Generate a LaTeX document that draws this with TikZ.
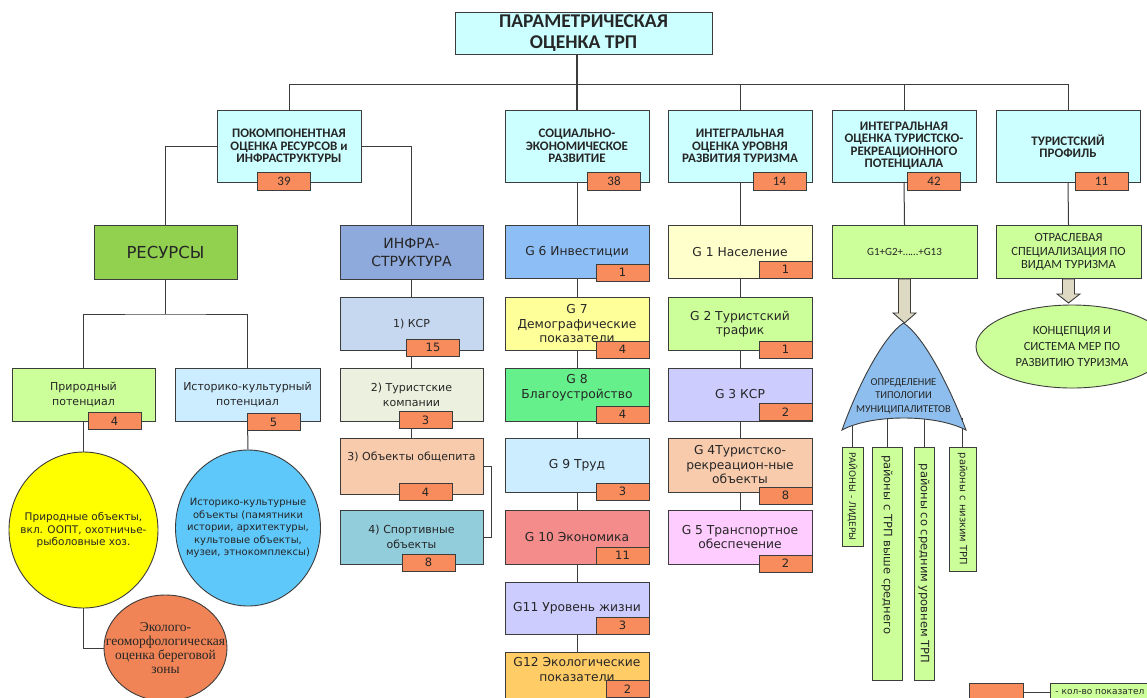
\documentclass[tikz,border=0pt]{standalone}
\usepackage{fontspec}
\setmainfont{DejaVu Sans}
\newfontfamily\calfont{Carlito}
\newfontfamily\serfont{Liberation Serif}
\usetikzlibrary{shapes.geometric}
\definecolor{headc}{RGB}{204,255,255}
\definecolor{numc}{RGB}{248,140,92}
\definecolor{lgreen}{RGB}{204,255,153}
\definecolor{resc}{RGB}{146,208,80}
\definecolor{infc}{RGB}{142,169,219}
\definecolor{histc}{RGB}{204,236,255}
\definecolor{yelc}{RGB}{255,255,0}
\definecolor{bluec}{RGB}{95,200,250}
\definecolor{orc}{RGB}{240,132,86}
\definecolor{ksrc}{RGB}{198,215,240}
\definecolor{turc}{RGB}{235,241,222}
\definecolor{peach}{RGB}{248,203,173}
\definecolor{sportc}{RGB}{146,205,220}
\definecolor{invc}{RGB}{141,190,245}
\definecolor{demc}{RGB}{255,255,153}
\definecolor{blagc}{RGB}{102,240,140}
\definecolor{ekonc}{RGB}{245,140,140}
\definecolor{lifec}{RGB}{204,204,255}
\definecolor{ecoc}{RGB}{255,204,102}
\definecolor{popc}{RGB}{255,255,204}
\definecolor{transc}{RGB}{255,204,255}
\definecolor{arrc}{RGB}{221,217,195}
\definecolor{domec}{RGB}{141,190,238}
\definecolor{linec}{RGB}{60,60,60}

\begin{document}
\begin{tikzpicture}[x=1pt,y=-1pt,
    box/.style={draw=linec, line width=0.9pt, minimum width=144, minimum height=53, inner sep=2pt, align=center, text=black!85},
    top/.style={box, fill=headc, minimum height=72, font=\calfont\bfseries\fontsize{13}{12.5}\selectfont},
    gbox/.style={box, font=\fontsize{12.3}{14.5}\selectfont},
    sbox/.style={box, font=\fontsize{11}{15}\selectfont},
    num/.style={draw=linec, line width=0.9pt, fill=numc, minimum width=53, minimum height=17, inner sep=0pt, text=black!85, font=\fontsize{11.5}{12}\selectfont},
    bignum/.style={num, minimum height=18, font=\calfont\fontsize{13}{13}\selectfont},
    link/.style={draw=linec, line width=1pt},
    oval/.style={ellipse, draw=linec, line width=0.9pt, inner sep=0pt},
    ovaltext/.style={align=center, inner sep=0pt, text=black!85},
    vbox/.style={draw=linec, line width=0.9pt, fill=lgreen, rotate=-90, inner xsep=2pt, inner ysep=0pt, text=black!85},
    fat/.style={draw=linec, line width=0.9pt, fill=arrc}]
    \fill[white] (0,0) rectangle (1147,697);
    \useasboundingbox (0,0) rectangle (1147,697);
    \clip (0,0) rectangle (1147,697);

    \node[box, fill=headc, minimum width=257, minimum height=42, font=\calfont\bfseries\fontsize{19.5}{21}\selectfont] (title) at (583.5,33) {ПАРАМЕТРИЧЕСКАЯ\\ОЦЕНКА ТРП};

    \node[top] (pok) at (289,146) {ПОКОМПОНЕНТНАЯ\\ОЦЕНКА РЕСУРСОВ и\\ИНФРАСТРУКТУРЫ};
    \node[top] (soc) at (577,146) {СОЦИАЛЬНО-\\ЭКОНОМИЧЕСКОЕ\\РАЗВИТИЕ};
    \node[top] (lev) at (740,146) {ИНТЕГРАЛЬНАЯ\\ОЦЕНКА УРОВНЯ\\РАЗВИТИЯ ТУРИЗМА};
    \node[top] (pot) at (904,146) {ИНТЕГРАЛЬНАЯ\\ОЦЕНКА ТУРИСТСКО-\\РЕКРЕАЦИОННОГО\\ПОТЕНЦИАЛА};
    \node[top] (prof) at (1068,146) {ТУРИСТСКИЙ\\ПРОФИЛЬ};

    \node[box, fill=resc, minimum width=143, minimum height=54, font=\fontsize{16.5}{18}\selectfont] (res) at (165.5,252) {РЕСУРСЫ};
    \node[box, fill=infc, minimum width=143, minimum height=54, font=\fontsize{14}{18}\selectfont] (inf) at (411.5,252) {ИНФРА-\\СТРУКТУРА};
    \node[sbox, fill=lgreen, minimum width=143] (nat) at (83.5,394.5) {Природный\\потенциал};
    \node[sbox, fill=histc, minimum width=145] (hist) at (247.5,394.5) {Историко-культурный\\потенциал};
    \node[oval, fill=yelc, minimum width=149, minimum height=156] (ye) at (83.5,530) {};
    \node[ovaltext, font=\fontsize{10.5}{12.5}\selectfont] (yet) at (ye) {Природные объекты,\\вкл. ООПТ, охотничье-\\рыболовные хоз.};
    \node[oval, fill=bluec, minimum width=145, minimum height=156] (be) at (248,528) {};
    \node[ovaltext, font=\fontsize{10}{12.5}\selectfont] (bet) at (be) {Историко-культурные\\объекты (памятники\\истории, архитектуры,\\культовые объекты,\\музеи, этнокомплексы)};
    \node[oval, fill=orc, minimum width=123, minimum height=106] (oe) at (165.5,648) {};
    \node[ovaltext, font=\serfont\fontsize{13.5}{14}\selectfont] (oet) at (oe) {Эколого-\\геоморфологическая\\оценка береговой\\зоны};

    \node[sbox, fill=ksrc, minimum width=143] (ksr) at (411.5,324) {1) КСР};
    \node[sbox, fill=turc, minimum width=143] (tur) at (411.5,394.5) {2) Туристские\\компании};
    \node[sbox, fill=peach, minimum width=143, minimum height=56] (ob) at (411.5,466) {3) Объекты общепита\\[4pt]};
    \node[sbox, fill=sportc, minimum width=143, minimum height=54] (sp) at (411.5,537) {4) Спортивные\\объекты};

    \node[gbox, fill=invc] (g6) at (577,252) {G 6 Инвестиции};
    \node[gbox, fill=demc] (g7) at (577,324) {G 7\\Демографические\\показатели};
    \node[gbox, fill=blagc] (g8) at (577,394.5) {G 8\\Благоустройство\\[2pt]};
    \node[gbox, fill=histc, minimum height=54] (g9) at (577,465) {G 9 Труд};
    \node[gbox, fill=ekonc, minimum height=54] (g10) at (577,537) {G 10 Экономика};
    \node[gbox, fill=lifec, minimum height=52] (g11) at (577,608) {G11 Уровень жизни};
    \node[gbox, fill=ecoc] (g12) at (577,678.5) {G12 Экологические\\показатели\\[4pt]};

    \node[gbox, fill=popc] (g1) at (740,252) {G 1 Население};
    \node[gbox, fill=lgreen] (g2) at (740,324) {G 2 Туристский\\трафик};
    \node[gbox, fill=lifec] (g3) at (740,394.5) {G 3 КСР};
    \node[gbox, fill=peach, minimum height=54] (g4) at (740,465) {G 4Туристско-\\рекреацион-ные\\объекты};
    \node[gbox, fill=transc, minimum height=54] (g5) at (740,537) {G 5 Транспортное\\обеспечение};

    \node[box, fill=lgreen, minimum width=145, font=\calfont\fontsize{11}{12}\selectfont] (sum) at (904.5,252) {G1+G2+……+G13};
    \node[box, fill=lgreen, minimum width=145, font=\calfont\fontsize{12.5}{13.5}\selectfont] (spec) at (1068.5,252) {ОТРАСЛЕВАЯ\\СПЕЦИАЛИЗАЦИЯ ПО\\ВИДАМ ТУРИЗМА};
    \node[oval, fill=lgreen, minimum width=192, minimum height=83] (plan) at (1072,346.5) {};
    \node[ovaltext, font=\calfont\fontsize{12.5}{16}\selectfont] (plant) at (plan) {КОНЦЕПЦИЯ И\\СИСТЕМА МЕР ПО\\РАЗВИТИЮ ТУРИЗМА};

    \node[vbox, minimum width=99, minimum height=21, font=\fontsize{9}{10}\selectfont] (v1) at (852.5,496.5) {РАЙОНЫ - ЛИДЕРЫ};
    \node[vbox, text width=217, inner xsep=8pt, align=left, minimum height=30, font=\fontsize{11.5}{12}\selectfont] (v2) at (887,563.5) {районы с ТРП выше среднего};
    \node[vbox, minimum width=233, minimum height=20, font=\fontsize{11.5}{12}\selectfont] (v3) at (924,563.5) {районы со средним уровнем ТРП};
    \node[vbox, minimum width=124, minimum height=27, font=\fontsize{10}{11}\selectfont] (v4) at (962.5,509) {районы с низким ТРП};

    % connectors
    \coordinate (bus) at (0,84);
    \coordinate (rsplit) at (165.5,314);
    \coordinate (dbase) at (903,418);
    \draw[link, line width=1.5pt] (soc.north) -- (soc.north |- title.south);
    \draw[link] (pok.north) |- (bus -| prof.north) -- (prof.north);
    \draw[link] (lev.north) -- (lev.north |- bus);
    \draw[link] (pot.north) -- (pot.north |- bus);
    \draw[link] (pok.west) -| (res.north);
    \draw[link] (pok.east) -| (inf.north);
    \draw[link] (res.south) -- (rsplit);
    \draw[link] (nat.north) |- (rsplit) -| (hist.north);
    \draw[link] (nat.south) -- (ye.north);
    \draw[link] (hist.south) -- (be.north);
    \draw[link] (ye.south) |- (oe.west);
    \draw[link] (ob.east) -- ++(8,0) |- (sp.east);
    \foreach \a/\b in {inf/ksr,ksr/tur,tur/ob,soc/g6,g6/g7,g7/g8,g8/g9,g9/g10,g10/g11,g11/g12,lev/g1,g1/g2,g2/g3,g3/g4,g4/g5,pot/sum,prof/spec}
        \draw[link] (\a.south) -- (\b.north);
    \foreach \v in {v1,v2,v3,v4}
        \draw[link] (\v.west) -- (\v.west |- dbase);

    \draw[fat] (sum.south) ++(-6,0) -- ++(0,34) -- ++(-5.5,0) -- ++(11.5,10) -- ++(11.5,-10) -- ++(-5.5,0) -- ++(0,-34) -- cycle;
    \draw[fat] (spec.south) ++(-6,0) -- ++(0,15) -- ++(-5.5,0) -- ++(11.5,9) -- ++(11.5,-9) -- ++(-5.5,0) -- ++(0,-15) -- cycle;

    \draw[link, line width=0.9pt, fill=domec] (842,430) .. controls (860,380) and (885,335) .. (903.5,323) .. controls (922,335) and (947,380) .. (966,430) .. controls (935,414) and (872,414) .. (842,430) -- cycle;
    \node[align=center, text=black!85, font=\calfont\fontsize{10.5}{13.5}\selectfont] (typ) at (903.5,396) {ОПРЕДЕЛЕНИЕ\\ТИПОЛОГИИ\\МУНИЦИПАЛИТЕТОВ};

    % counts
    \node[bignum] (n39) at (284,181) {39};
    \node[bignum] (n38) at (614,181) {38};
    \node[bignum] (n14) at (779.5,181) {14};
    \node[bignum] (n42) at (934,181) {42};
    \node[bignum] (n11) at (1101.5,181) {11};
    \node[num] (nnat) at (114.5,421) {4};
    \node[num] (nhist) at (273.5,422) {5};
    \node[num] (nksr) at (433,347.5) {15};
    \node[num] (ntur) at (425.5,420) {3};
    \node[num] (nob) at (425.5,492) {4};
    \node[num] (nsp) at (428.5,562.5) {8};
    \node[num] (n6) at (622.5,272.5) {1};
    \node[num] (n7) at (622.5,349.5) {4};
    \node[num] (n8) at (622.5,414.5) {4};
    \node[num] (n9) at (622.5,491.5) {3};
    \node[num] (n10) at (622.5,555.5) {11};
    \node[num] (n11b) at (622.5,625.5) {3};
    \node[num, minimum width=43] (n12) at (627.5,689) {2};
    \node[num] (n1) at (785.5,269.5) {1};
    \node[num] (n2) at (785.5,349.5) {1};
    \node[num] (n3) at (785.5,412) {2};
    \node[num] (n4) at (785.5,495.5) {8};
    \node[num] (n5) at (785.5,563.5) {2};

    \node[num, minimum width=54, minimum height=18] (lgn) at (996,692) {};
    \node[draw=linec, line width=0.9pt, fill=lgreen, anchor=west, minimum height=18, inner xsep=5pt, inner ysep=0pt, text=black!85, font=\fontsize{9}{10}\selectfont] (lgt) at (1050,692) {- кол-во показател};
    \draw[link] (lgn.east) -- (lgt.west);
\end{tikzpicture}
\end{document}
